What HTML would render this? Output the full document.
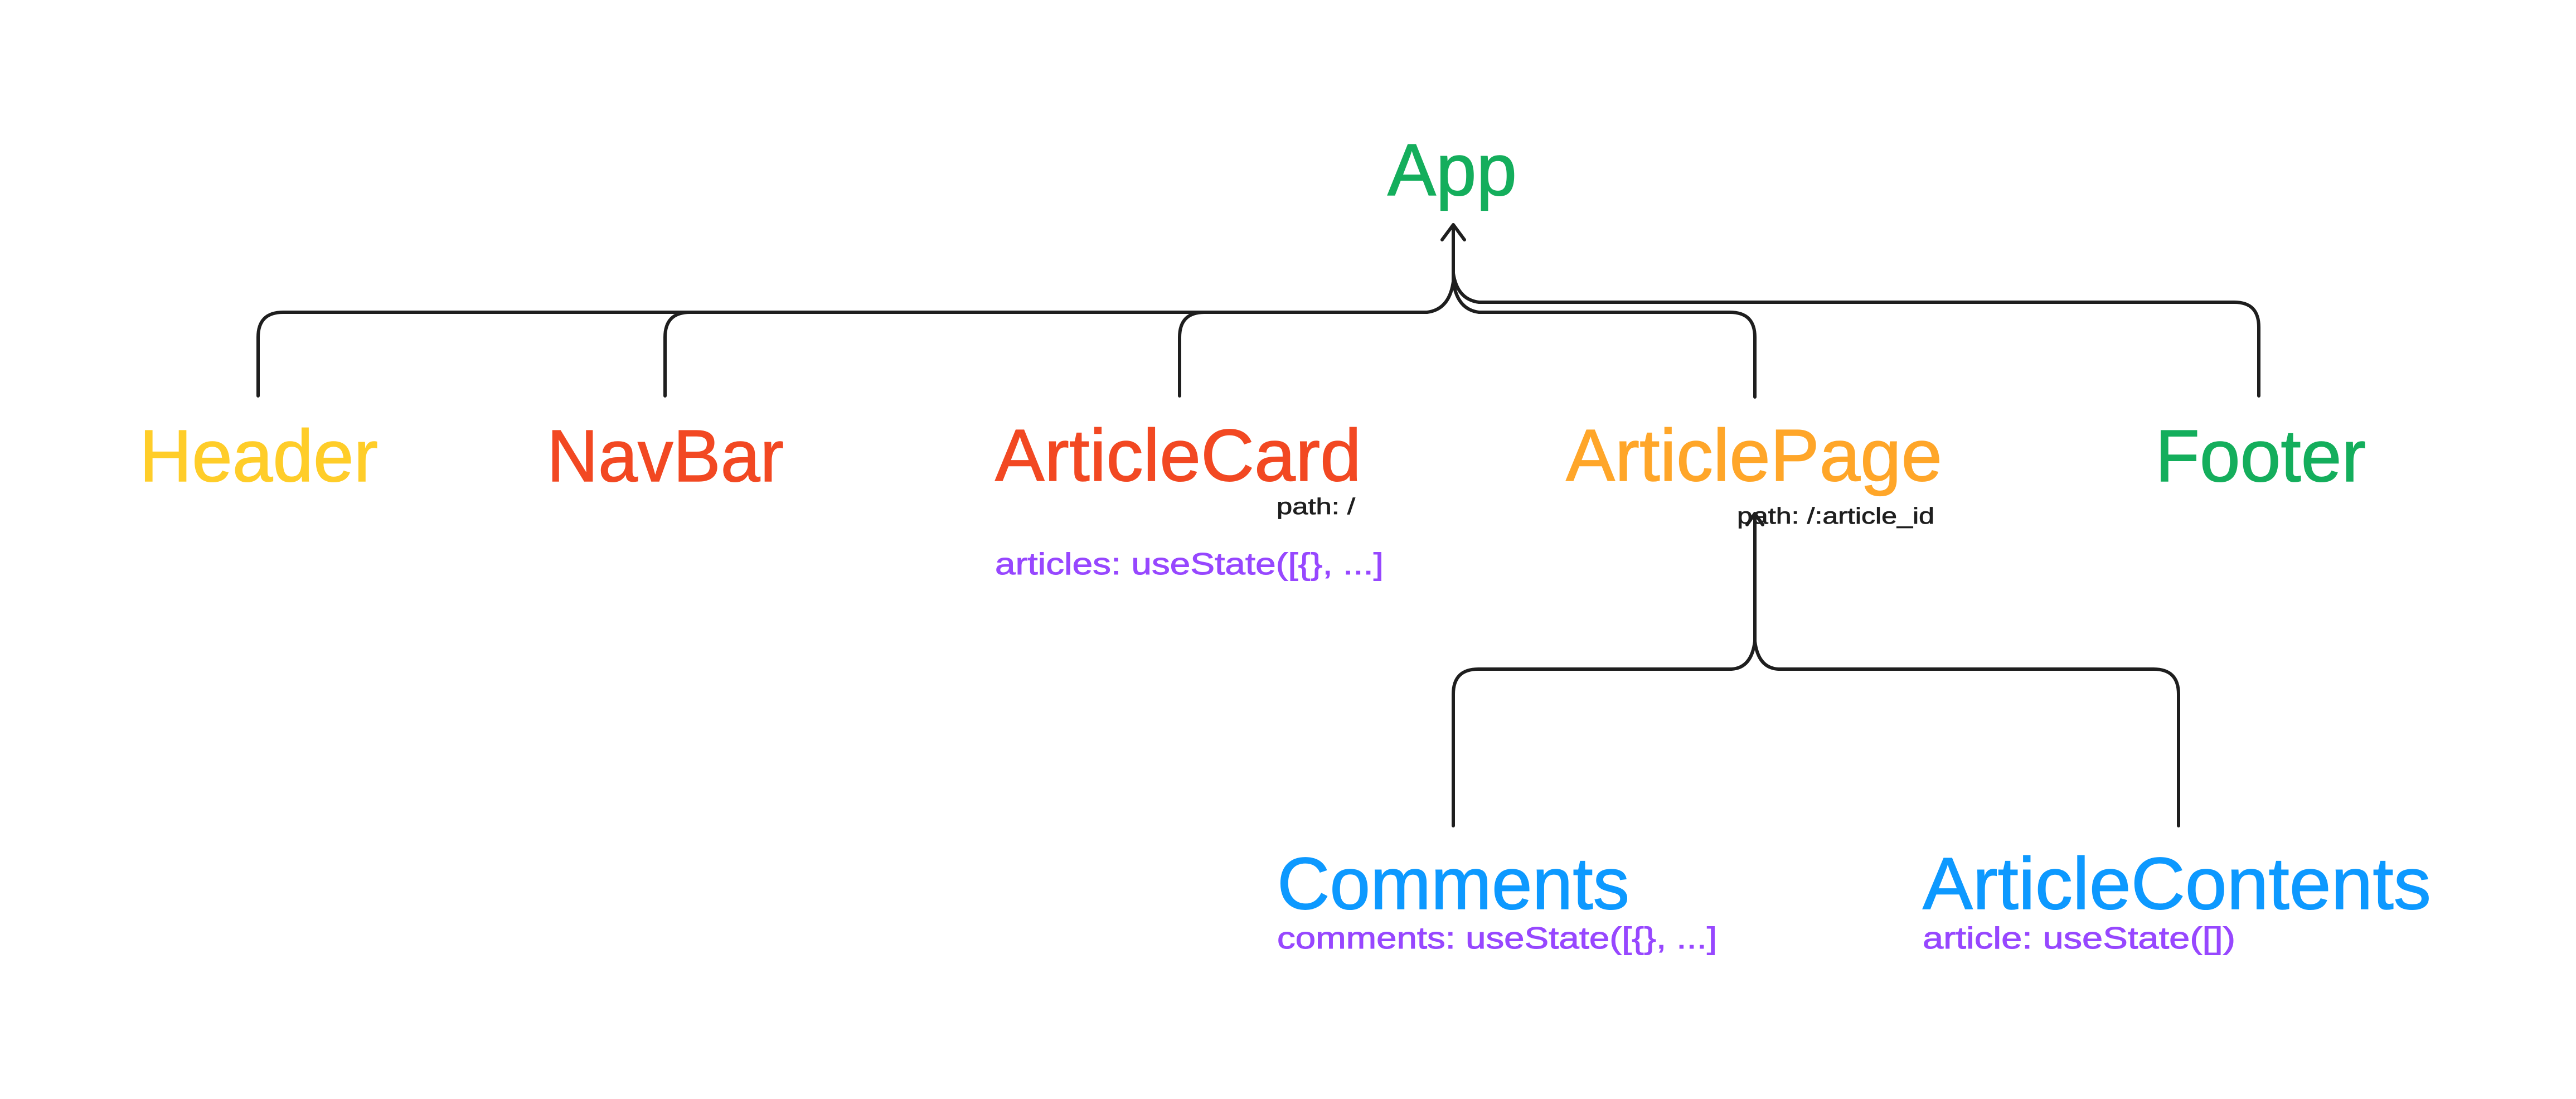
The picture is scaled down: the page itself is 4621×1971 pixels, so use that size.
<!DOCTYPE html>
<html><head><meta charset="utf-8"><style>
html,body{margin:0;padding:0;background:#fff;}
svg{display:block;}
text{font-family:"Liberation Sans",Arial,sans-serif;}
</style></head><body>
<svg width="4621" height="1971" viewBox="0 0 4621 1971" xmlns="http://www.w3.org/2000/svg">
<rect width="4621" height="1971" fill="#fff"/>
<g fill="none" stroke="#1e1e1e" stroke-width="6" stroke-linecap="round" stroke-linejoin="round">
  <path d="M2607 512 V405"/>
  <path d="M2587 430 L2607 403 L2627 430"/>
  <path d="M463 710 V605 Q463 560 508 560 H2560 Q2600 555 2607 505"/>
  <path d="M1193 710 V605 Q1193 560 1238 560"/>
  <path d="M2116 710 V605 Q2116 560 2161 560"/>
  <path d="M2607 505 Q2614 555 2653 560 H3103 Q3148 560 3148 605 V712"/>
  <path d="M2607 490 Q2614 537 2653 542 H4008 Q4052 542 4052 587 V710"/>
  <path d="M3148 1155 V922"/>
  <path d="M3134 941 L3148 921 L3162 941"/>
  <path d="M2607 1481 V1245 Q2607 1200 2652 1200 H3106 Q3142 1198 3148 1150"/>
  <path d="M3148 1150 Q3154 1198 3190 1200 H3863 Q3908 1200 3908 1245 V1481"/>
</g>
<g font-size="132" stroke-width="1.5">
  <text x="2489" y="350" fill="#14AE5C" stroke="#14AE5C" textLength="232" lengthAdjust="spacingAndGlyphs">App</text>
  <text x="250" y="863" fill="#FFCD29" stroke="#FFCD29" textLength="428" lengthAdjust="spacingAndGlyphs">Header</text>
  <text x="981" y="863" fill="#F24822" stroke="#F24822" textLength="425" lengthAdjust="spacingAndGlyphs">NavBar</text>
  <text x="1785" y="862" fill="#F24822" stroke="#F24822" textLength="657" lengthAdjust="spacingAndGlyphs">ArticleCard</text>
  <text x="2809" y="862" fill="#FFA629" stroke="#FFA629" textLength="675" lengthAdjust="spacingAndGlyphs">ArticlePage</text>
  <text x="3866" y="863" fill="#14AE5C" stroke="#14AE5C" textLength="378" lengthAdjust="spacingAndGlyphs">Footer</text>
  <text x="2291" y="1630" fill="#0D99FF" stroke="#0D99FF" textLength="632" lengthAdjust="spacingAndGlyphs">Comments</text>
  <text x="3449" y="1630" fill="#0D99FF" stroke="#0D99FF" textLength="912" lengthAdjust="spacingAndGlyphs">ArticleContents</text>
</g>
<g font-size="41" fill="#1e1e1e" stroke="#1e1e1e" stroke-width="0.8">
  <text x="2290" y="922" textLength="141" lengthAdjust="spacingAndGlyphs">path: /</text>
  <text x="3116" y="939" textLength="354" lengthAdjust="spacingAndGlyphs">path: /:article_id</text>
</g>
<g font-size="55" fill="#9747FF" stroke="#9747FF" stroke-width="1">
  <text x="1785" y="1030" textLength="697" lengthAdjust="spacingAndGlyphs">articles: useState([{}, ...]</text>
  <text x="2291" y="1701" textLength="789" lengthAdjust="spacingAndGlyphs">comments: useState([{}, ...]</text>
  <text x="3449" y="1701" textLength="561" lengthAdjust="spacingAndGlyphs">article: useState([])</text>
</g>
</svg>
</body></html>
